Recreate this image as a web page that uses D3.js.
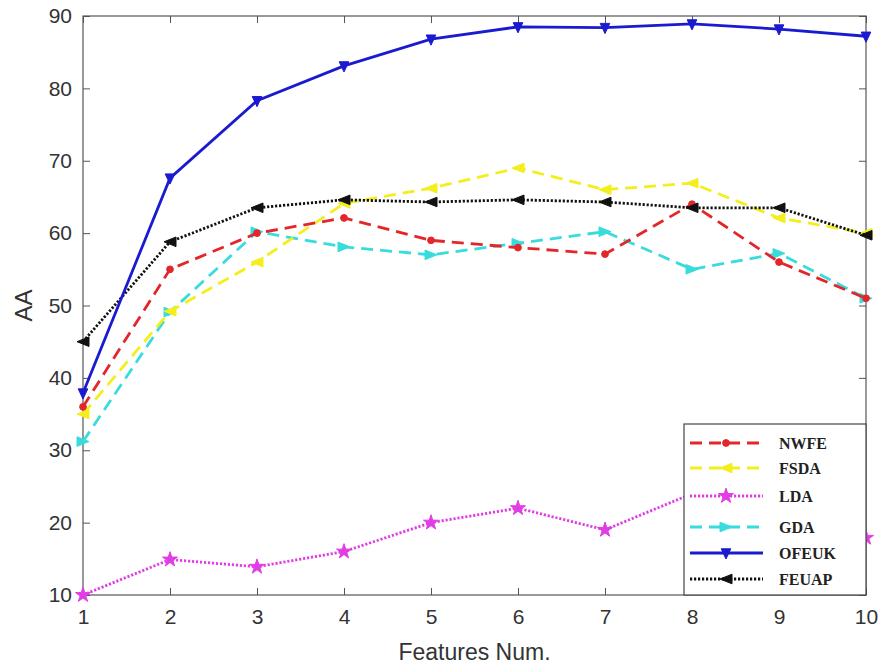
<!DOCTYPE html>
<html>
<head>
<meta charset="utf-8">
<script src="https://cdn.jsdelivr.net/npm/d3@7"></script>
<style>
	body { margin: 0; background: #fff; }
	.tick text { font-family: "Liberation Sans", Arial, sans-serif; fill: #333; }
</style>
</head>
<body>
<svg id="CHART"></svg>
<script>
	var featureNums = [1, 2, 3, 4, 5, 6, 7, 8, 9, 10];
	var yTicks = [10, 20, 30, 40, 50, 60, 70, 80, 90];

	var nwfeVals  = [36, 55, 60, 62.1, 59, 58, 57.1, 64, 56, 51];
	var fsdaVals  = [35, 49.2, 56, 64.1, 66.2, 69, 66, 66.9, 62.1, 60];
	var ldaVals   = [10, 14.9, 13.9, 16, 20, 22, 19, 24, 22, 17.9];
	var gdaVals   = [31.2, 49.1, 60.2, 58.1, 57, 58.6, 60.2, 55, 57.2, 51];
	var ofeukVals = [37.9, 67.6, 78.3, 83.1, 86.8, 88.5, 88.4, 88.9, 88.2, 87.2];
	var feuapVals = [45, 58.8, 63.5, 64.6, 64.3, 64.6, 64.3, 63.5, 63.5, 59.7];

	var seriesNames = ["NWFE", "FSDA", "LDA", "GDA", "OFEUK", "FEUAP"];

	(function(){
		var width = 883, height = 671,
			left = 83, right = 866, top = 16, bottom = 595;

		var svg = d3.select("#CHART")
			.attr("width", width)
			.attr("height", height);

		var x = d3.scaleLinear().domain([1, 10]).range([left, right]);
		var y = d3.scaleLinear().domain([10, 90]).range([bottom, top]);

		// 각 계열 스타일
		var styles = {
			NWFE:  { vals: nwfeVals,  color: "#e3262a", dash: "12,7", w: 2.8, marker: "circle" },
			FSDA:  { vals: fsdaVals,  color: "#f4ee1c", dash: "12,7", w: 2.8, marker: "tri-left" },
			LDA:   { vals: ldaVals,   color: "#e03ee4", dash: "2.2,1.8", w: 2.8, marker: "star" },
			GDA:   { vals: gdaVals,   color: "#38dcdc", dash: "12,7", w: 2.8, marker: "tri-right" },
			OFEUK: { vals: ofeukVals, color: "#1a1ad0", dash: null,   w: 2.8, marker: "tri-down" },
			FEUAP: { vals: feuapVals, color: "#111",    dash: "2.2,1.8", w: 2.8, marker: "tri-left" }
		};

		var markerPath = function(type){
			if(type == "circle"){ return d3.symbol().type(d3.symbolCircle).size(36)(); }
			if(type == "star"){ return d3.symbol().type(d3.symbolStar).size(70)(); }
			var s = 6;
			if(type == "tri-left"){ return "M" + (-s) + ",0L" + s + "," + (-s*0.8) + "L" + s + "," + (s*0.8) + "Z"; }
			if(type == "tri-right"){ return "M" + s + ",0L" + (-s) + "," + (-s*0.8) + "L" + (-s) + "," + (s*0.8) + "Z"; }
			if(type == "tri-down"){ return "M0," + s + "L" + (-s*0.8) + "," + (-s*0.7) + "L" + (s*0.8) + "," + (-s*0.7) + "Z"; }
		};

		// 축 (box on, 안쪽 눈금)
		var axisColor = "#555";
		svg.append("g")
			.attr("transform", "translate(0," + bottom + ")")
			.call(d3.axisBottom(x).tickValues(featureNums).tickSize(-7).tickPadding(14).tickFormat(d3.format("d")))
			.call(function(g){
				g.select(".domain").remove();
				g.selectAll(".tick line").attr("stroke", axisColor);
				g.selectAll(".tick text").style("font-size", "21px");
			});
		svg.append("g")
			.attr("transform", "translate(" + left + ",0)")
			.call(d3.axisLeft(y).tickValues(yTicks).tickSize(-7).tickPadding(11))
			.call(function(g){
				g.select(".domain").remove();
				g.selectAll(".tick line").attr("stroke", axisColor);
				g.selectAll(".tick text").style("font-size", "21px");
			});
		svg.append("g")
			.attr("transform", "translate(0," + top + ")")
			.call(d3.axisTop(x).tickValues(featureNums).tickSize(-7).tickFormat(""))
			.call(function(g){
				g.select(".domain").remove();
				g.selectAll(".tick line").attr("stroke", axisColor);
			});
		svg.append("g")
			.attr("transform", "translate(" + right + ",0)")
			.call(d3.axisRight(y).tickValues(yTicks).tickSize(-7).tickFormat(""))
			.call(function(g){
				g.select(".domain").remove();
				g.selectAll(".tick line").attr("stroke", axisColor);
			});
		svg.append("rect")
			.attr("x", left).attr("y", top)
			.attr("width", right - left).attr("height", bottom - top)
			.attr("fill", "none").attr("stroke", axisColor).attr("stroke-width", 1.2);

		svg.append("text")
			.attr("x", (left + right) / 2).attr("y", 660)
			.attr("text-anchor", "middle")
			.style("font-family", "Liberation Sans, Arial, sans-serif")
			.style("font-size", "23px").style("fill", "#333")
			.text("Features Num.");
		svg.append("text")
			.attr("transform", "translate(32," + ((top + bottom) / 2) + ") rotate(-90)")
			.attr("text-anchor", "middle")
			.style("font-family", "Liberation Sans, Arial, sans-serif")
			.style("font-size", "24px").style("fill", "#333")
			.text("AA");

		var line = d3.line()
			.x(function(d, i){ return x(featureNums[i]); })
			.y(function(d){ return y(d); });

		var order = ["LDA", "GDA", "FSDA", "NWFE", "FEUAP", "OFEUK"];
		order.forEach(function(name){
			var st = styles[name];
			var g = svg.append("g").attr("class", "series");
			g.append("path")
				.datum(st.vals)
				.attr("d", line)
				.attr("fill", "none")
				.attr("stroke", st.color)
				.attr("stroke-width", st.w)
				.attr("stroke-dasharray", st.dash);
			g.selectAll(".mk")
				.data(st.vals)
				.enter().append("path")
				.attr("class", "mk")
				.attr("d", markerPath(st.marker))
				.attr("transform", function(d, i){ return "translate(" + x(featureNums[i]) + "," + y(d) + ")"; })
				.attr("fill", st.color)
				.attr("stroke", st.color)
				.attr("stroke-width", 1);
		});

		// 범례
		var lgX = 684, lgY = 424, lgW = right - lgX, lgH = bottom - lgY;
		var legend = svg.append("g").attr("class", "legend");
		legend.append("rect")
			.attr("x", lgX).attr("y", lgY).attr("width", lgW).attr("height", lgH)
			.attr("fill", "#fff").attr("stroke", "#444").attr("stroke-width", 1.2);
		var rowY = [443, 468, 496, 527, 553, 579];
		var items = legend.selectAll(".lg-item")
			.data(seriesNames)
			.enter().append("g")
			.attr("class", "lg-item")
			.attr("transform", function(d, i){ return "translate(0," + rowY[i] + ")"; });
		items.append("line")
			.attr("x1", 690).attr("x2", 763)
			.attr("stroke", function(d){ return styles[d].color; })
			.attr("stroke-width", function(d){ return styles[d].w; })
			.attr("stroke-dasharray", function(d){ return styles[d].dash; });
		items.append("path")
			.attr("d", function(d){ return markerPath(styles[d].marker); })
			.attr("transform", "translate(726,0)")
			.attr("fill", function(d){ return styles[d].color; })
			.attr("stroke", function(d){ return styles[d].color; });
		items.append("text")
			.attr("x", 779).attr("y", 6)
			.style("font-family", "Liberation Serif, Times New Roman, serif")
			.style("font-weight", "bold")
			.style("font-size", "16px")
			.style("fill", "#222")
			.text(function(d){ return d; });
	})();
</script>
</body>
</html>
